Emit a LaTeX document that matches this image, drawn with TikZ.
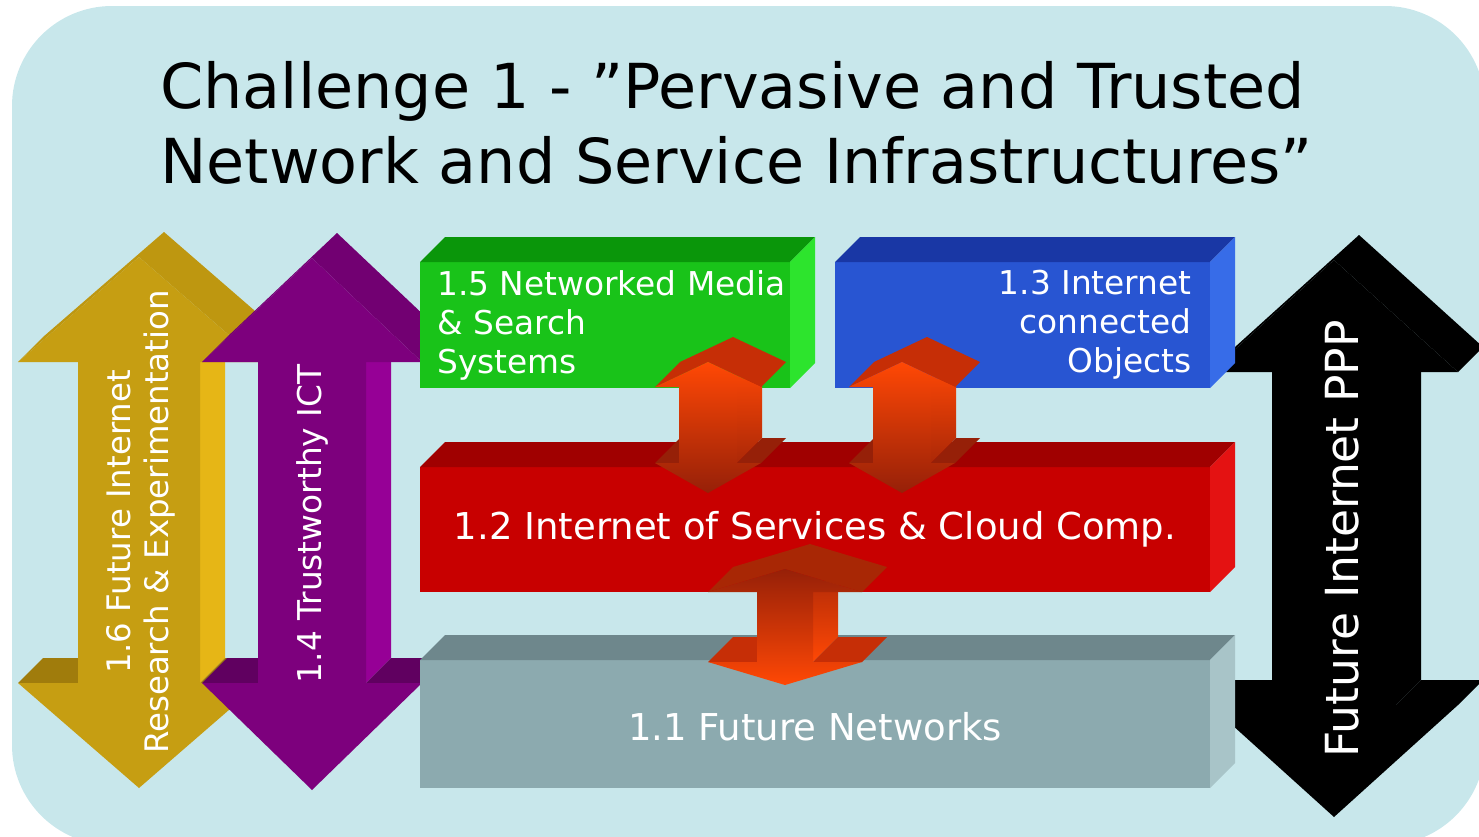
\documentclass[tikz,border=0pt]{standalone}
\usepackage{fontspec}
\setmainfont{DejaVu Sans}
\usepackage{tikz}
\usetikzlibrary{
  calc,         % Offsets $...$ for the depth faces
}
\def\dep{25}    % depth of the 3d faces (up and right)
% Colours
\definecolor{bgblue}{RGB}{200,231,235}
\definecolor{yelfront}{RGB}{198,158,18}
\definecolor{yeltop}{RGB}{190,151,16}
\definecolor{yelwing}{RGB}{160,124,12}
\definecolor{yelside}{RGB}{230,182,22}
\definecolor{purfront}{RGB}{125,0,125}
\definecolor{purtop}{RGB}{114,0,114}
\definecolor{purwing}{RGB}{96,0,96}
\definecolor{purside}{RGB}{150,0,150}
\definecolor{grnfront}{RGB}{25,195,25}
\definecolor{grntop}{RGB}{10,150,10}
\definecolor{grnside}{RGB}{45,228,45}
\definecolor{blufront}{RGB}{40,85,210}
\definecolor{blutop}{RGB}{25,55,165}
\definecolor{bluside}{RGB}{55,108,232}
\definecolor{redfront}{RGB}{200,0,0}
\definecolor{redtop}{RGB}{160,0,0}
\definecolor{redside}{RGB}{228,18,18}
\definecolor{gryfront}{RGB}{140,170,175}
\definecolor{grytop}{RGB}{110,135,140}
\definecolor{gryside}{RGB}{168,196,200}
\definecolor{orbright}{RGB}{255,72,5}
\definecolor{ordark}{RGB}{150,32,8}
\definecolor{ortop}{RGB}{198,46,6}
\newcommand{\ttlsize}{\fontsize{31}{37.5}\selectfont}
\newcommand{\boxsize}{\fontsize{16.4}{19.5}\selectfont}
\newcommand{\barsize}{\fontsize{18.5}{22}\selectfont}
\newcommand{\pppsize}{\fontsize{22.8}{27}\selectfont}
\tikzset{
  ttl/.style={
    inner sep=0pt,
    font=\ttlsize
  },
  lbl/.style={
    text=white,
    inner sep=0pt,
    font=\boxsize
  },
  box/.style={
    draw=none,
    inner sep=0pt,
    outer sep=0pt,
    anchor=north west
  },
  yel front/.style={fill=yelfront},
  yel top/.style={fill=yeltop},
  yel wing/.style={fill=yelwing},
  yel side/.style={fill=yelside},
  pur front/.style={fill=purfront},
  pur top/.style={fill=purtop},
  pur wing/.style={fill=purwing},
  pur side/.style={fill=purside},
  blk front/.style={fill=black},
  blk top/.style={fill=black},
  blk wing/.style={fill=black},
  blk side/.style={fill=black},
  orup front/.style={top color=orbright, bottom color=ordark},
  orup top/.style={fill=ortop},
  orup wing/.style={fill=ordark},
  orup side/.style={top color=orbright, bottom color=ordark!80!orbright},
  ordn front/.style={top color=ordark, bottom color=orbright},
  ordn top/.style={fill=ortop!85!black},
  ordn wing/.style={fill=ortop},
  ordn side/.style={top color=ordark!80!orbright, bottom color=orbright}
}
% Top and right faces of a box node
\newcommand{\boxfaces}[3]{%
  \fill[#2] (#1.north west) -- ++(\dep,-\dep) -- ($(#1.north east)+(\dep,-\dep)$) -- (#1.north east) -- cycle;
  \fill[#3] (#1.north east) -- ++(\dep,-\dep) -- ($(#1.south east)+(\dep,-\dep)$) -- (#1.south east) -- cycle;
}
% Vertical double arrow with depth:
% x centre, top tip, upper head base, lower head base, bottom tip, shaft half width, head half width, style prefix
\newcommand{\slabarrow}[8]{%
  \path[#8 side] (#1+#6,#3) -- (#1+#6,#4) -- ++(\dep,-\dep) -- (#1+#6+\dep,#3-\dep) -- cycle;
  \path[#8 top] (#1-#7,#3) -- (#1,#2) -- (#1+#7,#3) -- ++(\dep,-\dep) -- (#1+\dep,#2-\dep) -- (#1-#7+\dep,#3-\dep) -- cycle;
  \path[#8 wing] (#1-#7,#4) -- (#1-#6,#4) -- ++(\dep,-\dep) -- (#1-#7+\dep,#4-\dep) -- cycle;
  \path[#8 wing] (#1+#6,#4) -- (#1+#7,#4) -- ++(\dep,-\dep) -- (#1+#6+\dep,#4-\dep) -- cycle;
  \path[#8 front] (#1,#2) -- (#1+#7,#3) -- (#1+#6,#3) -- (#1+#6,#4) -- (#1+#7,#4) -- (#1,#5)
    -- (#1-#7,#4) -- (#1-#6,#4) -- (#1-#6,#3) -- (#1-#7,#3) -- cycle;
}
\begin{document}
\begin{tikzpicture}[x=0.5pt,y=-0.5pt]
\useasboundingbox (0,0) rectangle (1479,836);
\clip (0,0) rectangle (1479,836);
% Background panel
\fill[bgblue, rounded corners=50pt] (12,400) -- (12,6) -- (1485,6) -- (1485,845) -- (12,845) -- cycle;
% Title
\node[ttl, anchor=base west] (title1) at (160,108) {Challenge 1 - ”Pervasive and Trusted};
\node[ttl, anchor=base west] (title2) at (160,183) {Network and Service Infrastructures”};
% Side arrows
\slabarrow{139}{257}{362}{683}{788}{61}{121}{yel}
\slabarrow{312}{258}{362}{683}{790}{54}{110}{pur}
\slabarrow{1334}{260}{372}{705}{817}{62}{124}{blk}
% Boxes
\node[box, fill=grnfront, minimum width=185pt, minimum height=63pt] (media) at (420,262) {};
\boxfaces{media}{grntop}{grnside}
\node[box, fill=blufront, minimum width=187.5pt, minimum height=63pt] (objects) at (835,262) {};
\boxfaces{objects}{blutop}{bluside}
\node[box, fill=redfront, minimum width=395pt, minimum height=62.5pt] (services) at (420,467) {};
\boxfaces{services}{redtop}{redside}
\node[box, fill=gryfront, minimum width=395pt, minimum height=64pt] (networks) at (420,660) {};
\boxfaces{networks}{grytop}{gryside}
% Links between the boxes
\slabarrow{708}{362}{387}{463}{493}{29}{53}{orup}
\slabarrow{902}{362}{387}{463}{493}{29}{53}{orup}
\slabarrow{785}{569}{592}{662}{685}{28}{77}{ordn}
% Labels
\node[lbl, anchor=west, align=left] (tmedia) at ([xshift=8.5pt]media.west) {1.5 Networked Media\\\& Search\\Systems};
\node[lbl, anchor=east, align=right] (tobjects) at ([xshift=-9pt]objects.east) {1.3 Internet\\connected\\Objects};
\node[lbl, font=\barsize] (tservices) at (services.center) {1.2 Internet of Services \& Cloud Comp.};
\node[lbl, font=\barsize] (tnetworks) at ([yshift=-1.5pt]networks.center) {1.1 Future Networks};
\node[lbl, rotate=90, align=center, font=\fontsize{16.2}{19}\selectfont] (tresearch) at (141,522) {1.6 Future Internet\\Research \& Experimentation};
\node[lbl, rotate=90] (ttrust) at (312,524) {1.4 Trustworthy ICT};
\node[lbl, rotate=90, font=\pppsize] (tppp) at (1342,539) {Future Internet PPP};
\end{tikzpicture}
\end{document}
